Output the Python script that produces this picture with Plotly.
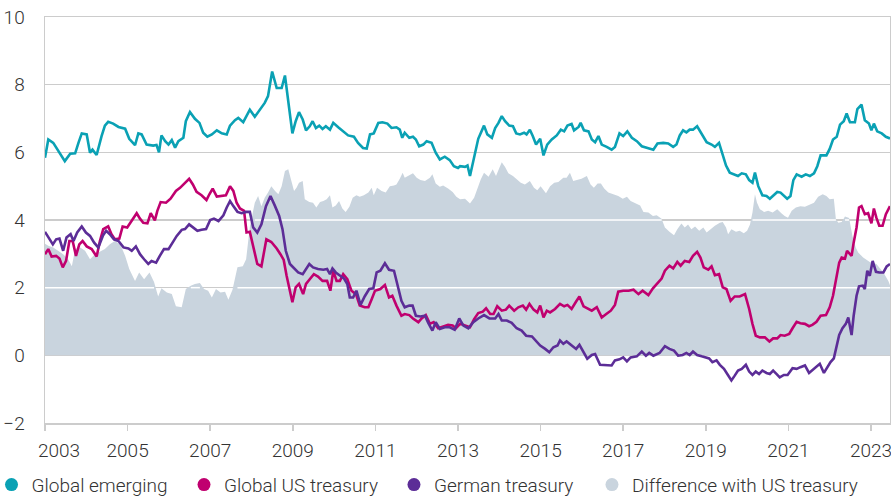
import plotly.graph_objects as go

# ---------------- data (decimal years, yields in %) ----------------
ge_x = [2003.00, 2003.08, 2003.20, 2003.32, 2003.48, 2003.61, 2003.73, 2003.81, 2003.89, 2004.01,
        2004.09, 2004.15, 2004.25, 2004.37, 2004.45, 2004.53, 2004.65, 2004.78, 2004.94, 2005.04,
        2005.18, 2005.26, 2005.34, 2005.46, 2005.62, 2005.70, 2005.76, 2005.82, 2005.91, 2005.99,
        2006.07, 2006.15, 2006.23, 2006.35, 2006.41, 2006.51, 2006.63, 2006.74, 2006.83, 2006.93,
        2007.04, 2007.16, 2007.28, 2007.40, 2007.48, 2007.60, 2007.68, 2007.80, 2007.88,
        2007.96, 2008.08, 2008.20, 2008.32, 2008.40, 2008.50, 2008.61, 2008.73, 2008.81, 2008.89,
        2008.99, 2009.07, 2009.15, 2009.24, 2009.32, 2009.41, 2009.48, 2009.56, 2009.64, 2009.72,
        2009.80, 2009.90, 2009.98, 2010.10, 2010.22, 2010.34, 2010.48, 2010.58, 2010.70, 2010.79,
        2010.87, 2010.96, 2011.07, 2011.17, 2011.29, 2011.39, 2011.51, 2011.59, 2011.65, 2011.71,
        2011.82, 2011.91, 2011.98, 2012.06, 2012.16, 2012.24, 2012.36, 2012.46, 2012.56, 2012.68,
        2012.80, 2012.90, 2013.00,
        2013.05, 2013.17, 2013.23, 2013.29, 2013.39, 2013.49, 2013.63, 2013.71, 2013.82, 2013.90,
        2013.98, 2014.06, 2014.14, 2014.24, 2014.33, 2014.41, 2014.50, 2014.60, 2014.66, 2014.74,
        2014.81, 2014.89, 2014.99, 2015.07, 2015.16, 2015.27, 2015.39, 2015.49, 2015.57, 2015.65,
        2015.75, 2015.81, 2015.92, 2015.97, 2016.05, 2016.16, 2016.24, 2016.32, 2016.40, 2016.48,
        2016.60, 2016.72, 2016.80, 2016.91, 2017.00, 2017.10, 2017.21, 2017.33, 2017.45, 2017.57,
        2017.73, 2017.83, 2017.97, 2018.09,
        2018.21, 2018.29, 2018.37, 2018.45, 2018.53, 2018.61, 2018.69, 2018.79, 2018.90, 2019.02,
        2019.14, 2019.22, 2019.32, 2019.41, 2019.49, 2019.58, 2019.70, 2019.78, 2019.87, 2019.97,
        2020.05, 2020.13, 2020.19, 2020.27, 2020.37, 2020.47, 2020.55, 2020.63, 2020.73, 2020.81,
        2020.89, 2020.97, 2021.05, 2021.12, 2021.20, 2021.32, 2021.42, 2021.52, 2021.62, 2021.70,
        2021.78, 2021.92, 2022.00, 2022.08, 2022.17, 2022.25, 2022.34, 2022.41, 2022.49, 2022.61,
        2022.67, 2022.77, 2022.85, 2022.95, 2023.01, 2023.07, 2023.15, 2023.26, 2023.36, 2023.46]
global_emerging = [5.84, 6.38, 6.28, 6.04, 5.74, 5.96, 5.97, 6.28, 6.56, 6.53,
                   5.99, 6.08, 5.92, 6.48, 6.79, 6.90, 6.85, 6.75, 6.70, 6.40,
                   6.21, 6.56, 6.53, 6.23, 6.20, 6.22, 6.00, 6.50, 6.33, 6.23,
                   6.36, 6.14, 6.33, 6.43, 6.92, 7.19, 6.99, 6.87, 6.58, 6.46,
                   6.53, 6.65, 6.56, 6.53, 6.79, 6.95, 7.02, 6.89, 7.07,
                   7.26, 7.05, 7.24, 7.46, 7.66, 8.39, 7.90, 7.90, 8.27, 7.46,
                   6.56, 6.92, 7.19, 6.97, 6.65, 6.77, 6.92, 6.72, 6.79, 6.69,
                   6.77, 6.67, 6.87, 6.74, 6.61, 6.50, 6.46, 6.28, 6.13, 6.11,
                   6.53, 6.56, 6.87, 6.89, 6.85, 6.72, 6.74, 6.67, 6.43, 6.58,
                   6.43, 6.46, 6.38, 6.18, 6.23, 6.33, 6.28, 5.99, 5.79, 5.87,
                   5.77, 5.59, 5.54,
                   5.59, 5.57, 5.61, 5.30, 5.89, 6.40, 6.79, 6.53, 6.43, 6.72,
                   6.87, 7.07, 6.92, 6.79, 6.77, 6.56, 6.53, 6.58, 6.53, 6.67,
                   6.48, 6.23, 6.40, 5.91, 6.23, 6.38, 6.50, 6.67, 6.62, 6.79,
                   6.84, 6.65, 6.75, 6.87, 6.65, 6.62, 6.38, 6.30, 6.48, 6.23,
                   6.16, 6.08, 6.16, 6.56, 6.48, 6.62, 6.43, 6.33, 6.18, 6.13,
                   6.08, 6.26, 6.28, 6.26,
                   6.16, 6.23, 6.50, 6.65, 6.59, 6.67, 6.67, 6.77, 6.53, 6.30,
                   6.23, 6.16, 6.28, 5.94, 5.61, 5.40, 5.35, 5.30, 5.38, 5.35,
                   5.18, 5.10, 5.40, 5.00, 4.73, 4.71, 4.63, 4.73, 4.83, 4.81,
                   4.71, 4.63, 4.71, 5.18, 5.35, 5.28, 5.35, 5.30, 5.38, 5.59,
                   5.91, 5.91, 6.10, 6.38, 6.46, 6.82, 6.92, 7.15, 6.89, 6.89,
                   7.28, 7.41, 6.95, 6.85, 6.65, 6.85, 6.62, 6.56, 6.46, 6.41]

us_x = [2003.00, 2003.08, 2003.16, 2003.27, 2003.35, 2003.43, 2003.51, 2003.59, 2003.67, 2003.75,
        2003.83, 2003.91, 2004.01, 2004.13, 2004.25, 2004.33, 2004.41, 2004.53, 2004.61, 2004.69,
        2004.80, 2004.88, 2004.99, 2005.10, 2005.22, 2005.30, 2005.38, 2005.48, 2005.56, 2005.66,
        2005.72, 2005.80, 2005.93, 2006.04, 2006.17, 2006.27, 2006.39, 2006.49, 2006.58, 2006.67,
        2006.79, 2006.91, 2006.98, 2007.06, 2007.16, 2007.28, 2007.38, 2007.48, 2007.56, 2007.64,
        2007.72, 2007.82, 2007.88,
        2007.96, 2008.06, 2008.14, 2008.24, 2008.36, 2008.48, 2008.61, 2008.70, 2008.78, 2008.85,
        2008.93, 2008.99, 2009.07, 2009.15, 2009.25, 2009.32, 2009.41, 2009.51, 2009.61, 2009.72,
        2009.83, 2009.91, 2009.98, 2010.06, 2010.14, 2010.22, 2010.32, 2010.42, 2010.53, 2010.62,
        2010.74, 2010.83, 2010.91, 2010.99, 2011.12, 2011.23, 2011.33, 2011.41, 2011.51, 2011.63,
        2011.71, 2011.82, 2011.91, 2012.04, 2012.12, 2012.22, 2012.32, 2012.41, 2012.52, 2012.64,
        2012.76, 2012.87, 2012.95,
        2013.05, 2013.17, 2013.29, 2013.39, 2013.49, 2013.60, 2013.68, 2013.78, 2013.86, 2013.95,
        2014.06, 2014.16, 2014.24, 2014.36, 2014.46, 2014.57, 2014.65, 2014.73, 2014.83, 2014.92,
        2014.99, 2015.07, 2015.15, 2015.23, 2015.35, 2015.47, 2015.57, 2015.65, 2015.75, 2015.86,
        2015.94, 2016.04, 2016.13, 2016.24, 2016.36, 2016.48, 2016.59, 2016.70, 2016.80, 2016.88,
        2017.00, 2017.13, 2017.25, 2017.37, 2017.47, 2017.61, 2017.72, 2017.83, 2017.93, 2018.01,
        2018.12,
        2018.21, 2018.31, 2018.39, 2018.49, 2018.60, 2018.69, 2018.79, 2018.87, 2018.95, 2019.06,
        2019.14, 2019.22, 2019.32, 2019.41, 2019.50, 2019.60, 2019.70, 2019.82, 2019.95, 2020.05,
        2020.13, 2020.21, 2020.31, 2020.43, 2020.54, 2020.63, 2020.73, 2020.81, 2020.91, 2021.02,
        2021.10, 2021.20, 2021.29, 2021.40, 2021.50, 2021.58, 2021.68, 2021.78, 2021.91, 2022.00,
        2022.08, 2022.15, 2022.23, 2022.29, 2022.37, 2022.42, 2022.53, 2022.58, 2022.65, 2022.71,
        2022.77, 2022.85, 2022.93, 2023.01, 2023.07, 2023.13, 2023.20, 2023.28, 2023.36, 2023.46]
global_us_treasury = [2.99, 3.14, 2.92, 2.94, 2.86, 2.60, 2.79, 3.38, 3.38, 2.94,
                      3.28, 3.38, 3.22, 3.14, 2.92, 3.38, 3.73, 3.81, 3.58, 3.43,
                      3.45, 3.81, 3.78, 3.97, 4.20, 4.04, 3.92, 3.90, 4.20, 3.99,
                      4.27, 4.53, 4.51, 4.63, 4.86, 4.95, 5.10, 5.22, 5.05, 4.83,
                      4.73, 4.59, 4.76, 4.93, 4.69, 4.71, 4.73, 5.00, 4.86, 4.51,
                      4.34, 4.27, 3.63,
                      3.65, 3.09, 2.70, 2.63, 3.43, 3.35, 3.16, 2.99, 2.82, 2.35,
                      1.86, 1.57, 2.01, 2.11, 1.81, 2.11, 2.25, 2.40, 2.33, 2.20,
                      2.20, 1.91, 2.50, 2.20, 2.20, 2.40, 2.25, 1.91, 1.81, 1.47,
                      1.42, 1.42, 1.66, 1.91, 1.96, 2.08, 1.71, 1.76, 1.47, 1.17,
                      1.22, 1.19, 1.09, 0.98, 1.09, 1.19, 0.93, 0.98, 0.80, 0.85,
                      0.90, 0.88, 0.80,
                      0.93, 0.88, 0.83, 1.07, 1.25, 1.29, 1.39, 1.22, 1.22, 1.45,
                      1.32, 1.35, 1.47, 1.32, 1.42, 1.47, 1.35, 1.52, 1.35, 1.27,
                      1.47, 1.12, 1.32, 1.27, 1.37, 1.52, 1.45, 1.49, 1.37, 1.59,
                      1.74, 1.45, 1.39, 1.32, 1.42, 1.12, 1.22, 1.32, 1.49, 1.88,
                      1.91, 1.91, 1.94, 1.81, 1.91, 1.78, 1.98, 2.14, 2.27, 2.50,
                      2.65,
                      2.57, 2.76, 2.65, 2.79, 2.76, 2.94, 3.06, 2.89, 2.60, 2.53,
                      2.63, 2.37, 2.40, 2.01, 1.96, 1.61, 1.74, 1.74, 1.81, 1.37,
                      0.93, 0.58, 0.53, 0.53, 0.41, 0.50, 0.50, 0.60, 0.58, 0.63,
                      0.80, 0.99, 0.95, 0.93, 0.86, 0.90, 0.99, 1.17, 1.19, 1.42,
                      1.76, 2.27, 2.74, 2.89, 2.86, 3.09, 2.94, 3.33, 3.78, 4.37,
                      4.41, 4.17, 4.20, 3.90, 4.34, 4.07, 3.83, 3.83, 4.17, 4.41]

de_x = [2003.00, 2003.08, 2003.19, 2003.27, 2003.35, 2003.44, 2003.52, 2003.62, 2003.69, 2003.78,
        2003.89, 2003.99, 2004.09, 2004.19, 2004.29, 2004.40, 2004.48, 2004.57, 2004.67, 2004.78,
        2004.90, 2005.02, 2005.10, 2005.20, 2005.30, 2005.40, 2005.50, 2005.58, 2005.69, 2005.78,
        2005.88, 2005.99, 2006.09, 2006.19, 2006.31, 2006.39, 2006.49, 2006.59, 2006.69, 2006.79,
        2006.90, 2007.00, 2007.09, 2007.20, 2007.32, 2007.40, 2007.48, 2007.56, 2007.66, 2007.76,
        2007.87,
        2007.96, 2008.04, 2008.14, 2008.24, 2008.35, 2008.46, 2008.57, 2008.67, 2008.75, 2008.83,
        2008.93, 2009.01, 2009.13, 2009.24, 2009.32, 2009.40, 2009.49, 2009.61, 2009.74, 2009.83,
        2009.90, 2009.96, 2010.04, 2010.14, 2010.24, 2010.32, 2010.38, 2010.46, 2010.54, 2010.64,
        2010.74, 2010.85, 2010.95, 2011.03, 2011.12, 2011.23, 2011.33, 2011.45, 2011.53, 2011.63,
        2011.71, 2011.82, 2011.90, 2011.98, 2012.09, 2012.20, 2012.28, 2012.38, 2012.46, 2012.56,
        2012.68, 2012.80, 2012.92, 2013.03,
        2013.13, 2013.25, 2013.37, 2013.49, 2013.63, 2013.76, 2013.90, 2013.98, 2014.06, 2014.18,
        2014.30, 2014.42, 2014.54, 2014.65, 2014.79, 2014.89, 2014.99, 2015.11, 2015.21, 2015.31,
        2015.41, 2015.47, 2015.55, 2015.63, 2015.75, 2015.86, 2015.94, 2016.04, 2016.13, 2016.24,
        2016.32, 2016.44, 2016.60, 2016.72, 2016.80, 2016.91, 2017.00, 2017.09, 2017.18, 2017.33,
        2017.45, 2017.55, 2017.63, 2017.73, 2017.88, 2018.01, 2018.12,
        2018.23, 2018.33, 2018.44, 2018.53, 2018.61, 2018.69, 2018.79, 2018.90, 2019.00, 2019.08,
        2019.16, 2019.26, 2019.34, 2019.44, 2019.52, 2019.62, 2019.70, 2019.78, 2019.87, 2019.97,
        2020.05, 2020.13, 2020.21, 2020.29, 2020.37, 2020.47, 2020.55, 2020.63, 2020.71, 2020.79,
        2020.89, 2020.98, 2021.10, 2021.20, 2021.29, 2021.40, 2021.50, 2021.60, 2021.70, 2021.76,
        2021.86, 2021.94, 2022.02, 2022.10, 2022.17, 2022.23, 2022.31, 2022.39, 2022.45, 2022.53,
        2022.58, 2022.65, 2022.71, 2022.80, 2022.85, 2022.91, 2022.97, 2023.04, 2023.12, 2023.20,
        2023.30, 2023.38, 2023.46]
german_treasury = [3.65, 3.48, 3.28, 3.43, 3.45, 3.09, 3.48, 3.58, 3.38, 3.63,
                   3.81, 3.63, 3.53, 3.33, 3.19, 3.53, 3.68, 3.58, 3.43, 3.38,
                   3.19, 3.16, 3.09, 3.22, 2.99, 2.84, 2.70, 2.79, 2.74, 2.94,
                   3.14, 3.14, 3.35, 3.53, 3.71, 3.73, 3.87, 3.78, 3.68, 3.71,
                   3.73, 4.00, 4.04, 3.97, 4.14, 4.37, 4.56, 4.41, 4.24, 4.20,
                   4.24,
                   4.24, 3.78, 3.63, 3.87, 4.41, 4.71, 4.41, 4.12, 3.73, 3.09,
                   2.70, 2.60, 2.45, 2.40, 2.55, 2.70, 2.60, 2.55, 2.53, 2.55,
                   2.40, 2.57, 2.45, 2.37, 2.27, 2.11, 1.71, 1.71, 1.91, 1.49,
                   1.74, 1.96, 1.98, 2.45, 2.50, 2.72, 2.53, 2.50, 2.06, 1.61,
                   1.42, 1.47, 1.47, 1.17, 1.15, 1.17, 0.96, 0.73, 0.98, 0.78,
                   0.83, 0.83, 0.76, 1.09,
                   0.88, 0.80, 0.98, 1.09, 1.19, 1.09, 1.09, 1.22, 1.03, 1.03,
                   0.96, 0.80, 0.73, 0.58, 0.56, 0.44, 0.29, 0.19, 0.09, 0.24,
                   0.29, 0.44, 0.34, 0.41, 0.29, 0.19, 0.31, 0.09, -0.10, 0.01,
                   0.04, -0.28, -0.28, -0.30, -0.15, -0.12, -0.06, -0.18, -0.06, -0.03,
                   0.11, -0.01, 0.07, -0.01, 0.07, 0.27, 0.19,
                   0.14, -0.01, 0.01, 0.07, 0.01, 0.11, 0.01, -0.03, -0.06, -0.09,
                   -0.20, -0.15, -0.28, -0.40, -0.55, -0.74, -0.60, -0.45, -0.40, -0.28,
                   -0.48, -0.58, -0.48, -0.55, -0.45, -0.52, -0.55, -0.45, -0.55, -0.65,
                   -0.58, -0.58, -0.38, -0.40, -0.35, -0.30, -0.52, -0.42, -0.30, -0.25,
                   -0.52, -0.35, -0.20, -0.09, 0.31, 0.60, 0.80, 0.93, 1.12, 0.60,
                   1.17, 1.76, 2.04, 2.06, 1.96, 2.50, 2.35, 2.79, 2.47, 2.45,
                   2.45, 2.63, 2.70]

diff_x = [2003.00, 2003.08, 2003.20, 2003.32, 2003.44, 2003.56, 2003.65, 2003.73, 2003.85, 2003.97,
          2004.09, 2004.21, 2004.33, 2004.45, 2004.57, 2004.69, 2004.82, 2004.94, 2005.04, 2005.18,
          2005.28, 2005.40, 2005.53, 2005.64, 2005.74, 2005.82, 2005.95, 2006.07, 2006.17, 2006.31,
          2006.41, 2006.53, 2006.63, 2006.75, 2006.85, 2006.95, 2007.04, 2007.14, 2007.25, 2007.36,
          2007.44, 2007.54, 2007.66, 2007.79, 2007.87, 2007.93,
          2007.96, 2008.08, 2008.16, 2008.24, 2008.32, 2008.40, 2008.48, 2008.57, 2008.65, 2008.73,
          2008.81, 2008.89, 2008.97, 2009.03, 2009.09, 2009.15, 2009.24, 2009.29, 2009.40, 2009.49,
          2009.57, 2009.66, 2009.74, 2009.82, 2009.90, 2009.96, 2010.04, 2010.12, 2010.20, 2010.28,
          2010.37, 2010.45, 2010.54, 2010.62, 2010.72, 2010.83, 2010.91, 2010.96, 2011.04, 2011.15,
          2011.25, 2011.35, 2011.45, 2011.51, 2011.59, 2011.66, 2011.71, 2011.79, 2011.91, 2012.00,
          2012.09, 2012.20, 2012.32, 2012.38, 2012.46, 2012.56, 2012.64, 2012.76, 2012.87, 2012.96,
          2013.05, 2013.17, 2013.29, 2013.39, 2013.45, 2013.55, 2013.63, 2013.74, 2013.84, 2013.92,
          2014.00, 2014.06, 2014.14, 2014.22, 2014.33, 2014.42, 2014.52, 2014.62, 2014.74, 2014.84,
          2014.92, 2015.00, 2015.13, 2015.23, 2015.33, 2015.43, 2015.55, 2015.63, 2015.71, 2015.79,
          2015.89, 2015.99, 2016.12, 2016.21, 2016.29, 2016.38, 2016.46, 2016.54, 2016.64, 2016.76,
          2016.88, 2016.99, 2017.09, 2017.18, 2017.29, 2017.41, 2017.49, 2017.61, 2017.72, 2017.81,
          2017.93, 2018.01, 2018.12,
          2018.23, 2018.31, 2018.41, 2018.49, 2018.57, 2018.65, 2018.74, 2018.84, 2018.94, 2019.02,
          2019.11, 2019.22, 2019.34, 2019.41, 2019.49, 2019.54, 2019.62, 2019.73, 2019.82, 2019.92,
          2020.00, 2020.07, 2020.13, 2020.19, 2020.24, 2020.31, 2020.41, 2020.51, 2020.62, 2020.73,
          2020.83, 2020.91, 2020.99, 2021.08, 2021.18, 2021.29, 2021.40, 2021.52, 2021.62, 2021.72,
          2021.83, 2021.92, 2022.00, 2022.10, 2022.15, 2022.21, 2022.29, 2022.37, 2022.47, 2022.55,
          2022.63, 2022.69, 2022.81, 2022.97, 2023.13, 2023.30, 2023.42, 2023.48]
difference_with_us = [3.30, 3.24, 3.19, 3.09, 2.99, 2.84, 2.63, 3.14, 3.19, 3.09,
                      2.84, 2.99, 3.06, 3.14, 3.28, 3.38, 3.28, 2.94, 2.55, 2.20,
                      2.45, 2.25, 2.45, 2.17, 1.74, 1.98, 1.86, 1.81, 1.45, 1.42,
                      1.96, 2.06, 2.11, 2.14, 1.96, 1.91, 1.71, 1.96, 1.86, 1.88,
                      1.64, 1.94, 2.60, 2.63, 2.84, 3.63,
                      3.80, 4.51, 4.71, 4.41, 4.66, 4.81, 5.00, 4.86, 4.76, 5.00,
                      5.45, 5.50, 5.15, 4.86, 4.95, 5.10, 5.15, 4.61, 4.53, 4.51,
                      4.37, 4.53, 4.56, 4.61, 4.73, 4.37, 4.43, 4.56, 4.34, 4.24,
                      4.39, 4.66, 4.73, 4.69, 4.73, 4.81, 4.95, 4.73, 4.95, 4.86,
                      4.81, 5.00, 5.02, 5.05, 5.22, 5.40, 5.25, 5.30, 5.38, 5.25,
                      5.18, 5.15, 5.25, 5.35, 5.08, 4.98, 5.02, 4.93, 4.83, 4.69,
                      4.61, 4.63, 4.49, 4.66, 4.86, 5.20, 5.40, 5.28, 5.50, 5.30,
                      5.54, 5.71, 5.57, 5.38, 5.30, 5.20, 5.10, 5.05, 5.15, 4.95,
                      4.88, 5.00, 4.79, 5.00, 5.10, 5.12, 5.25, 5.25, 5.40, 5.15,
                      5.18, 5.22, 5.30, 5.05, 4.95, 5.08, 5.08, 4.93, 4.81, 4.76,
                      4.71, 4.63, 4.69, 4.56, 4.49, 4.43, 4.24, 4.22, 4.12, 4.14,
                      4.04, 3.78, 3.65,
                      3.55, 3.73, 3.90, 3.78, 3.87, 3.73, 3.81, 3.68, 3.78, 3.63,
                      3.73, 3.83, 3.92, 3.94, 3.78, 3.58, 3.73, 3.65, 3.68, 3.61,
                      3.68, 3.87, 4.22, 4.76, 4.51, 4.32, 4.24, 4.27, 4.22, 4.32,
                      4.20, 4.12, 4.07, 4.27, 4.37, 4.41, 4.39, 4.46, 4.51, 4.69,
                      4.76, 4.71, 4.61, 4.63, 4.02, 3.92, 3.94, 4.10, 4.06, 3.53,
                      3.19, 3.04, 2.89, 2.76, 2.70, 2.45, 2.20, 2.01]

year_ticks = [2003, 2005, 2007, 2009, 2011, 2013, 2015, 2017, 2019, 2021, 2023]
y_ticks = [-2, 0, 2, 4, 6, 8, 10]
series_names = ["Global emerging", "Global US treasury", "German treasury",
                "Difference with US treasury"]

# ---------------- styling ----------------
C_GE = "#0aa1b4"
C_US = "#c0006f"
C_DE = "#5c2d97"
C_FILL = "#c9d4de"
GRID = "#cccccc"
TXT = "#333333"
FONT = "Roboto"
FS = 19

fig = go.Figure()

# area: difference with US treasury
fig.add_trace(go.Scatter(x=diff_x, y=difference_with_us, mode="lines",
                         line=dict(width=0, color=C_FILL), fill="tozeroy",
                         fillcolor=C_FILL, showlegend=False, hoverinfo="skip"))

# white grid lines where the area covers them
for lvl in (2, 4):
    fig.add_trace(go.Scatter(x=diff_x,
                             y=[lvl if v >= lvl else None for v in difference_with_us],
                             mode="lines", line=dict(color="white", width=1.5),
                             connectgaps=False, showlegend=False, hoverinfo="skip"))

fig.add_trace(go.Scatter(x=ge_x, y=global_emerging, mode="lines",
                         line=dict(color=C_GE, width=2.6), showlegend=False))
fig.add_trace(go.Scatter(x=us_x, y=global_us_treasury, mode="lines",
                         line=dict(color=C_US, width=2.6), showlegend=False))
fig.add_trace(go.Scatter(x=de_x, y=german_treasury, mode="lines",
                         line=dict(color=C_DE, width=2.6), showlegend=False))

# legend entries (circle markers), each in its own legend box for exact spacing
legend_ids = ["legend", "legend2", "legend3", "legend4"]
legend_x = [-0.0633, 0.1645, 0.4130, 0.6473]
for name, col, lid in zip(series_names, [C_GE, C_US, C_DE, C_FILL], legend_ids):
    fig.add_trace(go.Scatter(x=[None], y=[None], mode="markers", name=name,
                             legend=lid,
                             marker=dict(symbol="circle", size=13, color=col)))

fig.add_annotation(text="2003", x=2003, y=0, xref="x", yref="paper",
                   xanchor="center", yanchor="middle", xshift=14, yshift=-27.5,
                   showarrow=False, font=dict(family=FONT, size=FS, color=TXT, weight=300))

legend_common = dict(orientation="h", xref="paper", y=-0.152, yref="paper",
                     xanchor="left", yanchor="middle", font=dict(size=FS, color=TXT),
                     itemwidth=30, bgcolor="rgba(0,0,0,0)")

fig.update_layout(
    width=891, height=498,
    margin=dict(l=45, r=1, t=17, b=75, autoexpand=False),
    paper_bgcolor="white", plot_bgcolor="white",
    font=dict(family=FONT, size=FS, color=TXT, weight=300),
    showlegend=True,
    **{lid: dict(x=lx, **legend_common) for lid, lx in zip(legend_ids, legend_x)},
)
fig.update_xaxes(range=[2003, 2023.46], tickvals=year_ticks,
                 ticktext=[""] + [str(y) for y in year_ticks[1:]],
                 showgrid=False, zeroline=False, automargin=False,
                 ticklabeloverflow="allow", ticklabelstandoff=4,
                 showline=True, linecolor=GRID, linewidth=1.5, mirror=True,
                 ticks="outside", ticklen=6, tickcolor=GRID, tickwidth=1.5)
fig.update_yaxes(range=[-2, 10], tickvals=y_ticks, showgrid=True, automargin=False,
                 gridcolor=GRID, gridwidth=1.5, zeroline=False,
                 ticklabeloverflow="allow",
                 showline=True, linecolor=GRID, linewidth=1.5, mirror=True,
                 ticks="", ticklabelstandoff=15)

# let the figure fill the window exactly (no default 8px page margin / scrollbars)
fig.write_html("out.html",
               config={"displayModeBar": False, "staticPlot": True},
               post_script="document.body.style.margin='0';"
                           "document.body.style.overflow='hidden';")
